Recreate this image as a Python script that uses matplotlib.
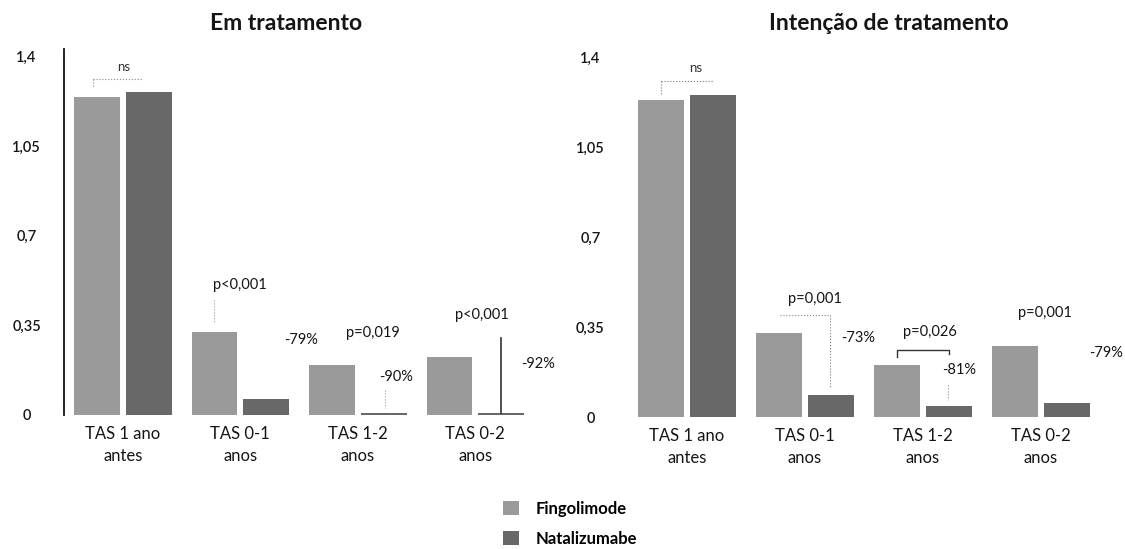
import numpy as np
import matplotlib
matplotlib.use("Agg")
import matplotlib.pyplot as plt
from matplotlib.patches import Patch

plt.rcParams['font.family'] = ['Lato', 'DejaVu Sans']

categories = ["TAS 1 ano\nantes", "TAS 0-1\nanos", "TAS 1-2\nanos", "TAS 0-2\nanos"]
series = ["Fingolimode", "Natalizumabe"]
ticks = [0, 0.35, 0.7, 1.05, 1.4]
tick_labels = ["0", "0,35", "0,7", "1,05", "1,4"]

# Em tratamento
on_fingo = [1.244, 0.325, 0.196, 0.227]
on_nata = [1.263, 0.063, 0.009, 0.009]
on_pvals = ["ns", "p<0,001", "p=0,019", "p<0,001"]
on_reduc = ["", "-79%", "-90%", "-92%"]

# Intenção de tratamento
itt_fingo = [1.236, 0.328, 0.203, 0.277]
itt_nata = [1.256, 0.086, 0.043, 0.055]
itt_pvals = ["ns", "p=0,001", "p=0,026", "p=0,001"]
itt_reduc = ["", "-73%", "-81%", "-79%"]

fingo_color = '#9a9a9a'
nata_color = '#686868'
txt = '#151515'

fig = plt.figure(figsize=(11.25, 5.49), dpi=100)
ax1 = fig.add_axes([0.0569, 0.2441, 0.4178, 0.6666])
ax2 = fig.add_axes([0.5582, 0.2404, 0.4196, 0.6686])

x = np.arange(len(categories))
w = 0.39
off = 0.22


def draw(ax, fingo, nata, show_spine):
    ax.bar(x - off, fingo, w, color=fingo_color)
    ax.bar(x + off, nata, w, color=nata_color)
    ax.set_xlim(-0.5, 3.5)
    ax.set_ylim(0, 1.43)
    ax.set_yticks(ticks)
    ax.set_yticklabels(tick_labels, fontsize=10.5, color=txt, fontweight='semibold')
    for lab in ax.get_yticklabels():
        lab.set_horizontalalignment('center')
    ax.tick_params(axis='y', length=0, pad=27)
    ax.set_xticks(x)
    ax.set_xticklabels(categories, fontsize=12, color=txt, linespacing=1.45)
    ax.tick_params(axis='x', length=0, pad=8)
    for s in ['top', 'right', 'bottom']:
        ax.spines[s].set_visible(False)
    ax.spines['left'].set_visible(show_spine)
    ax.spines['left'].set_color('#111111')
    ax.spines['left'].set_linewidth(1.3)


draw(ax1, on_fingo, on_nata, True)
draw(ax2, itt_fingo, itt_nata, False)

fig.text(0.254, 0.958, "Em tratamento", ha='center', va='center',
         fontsize=16.5, fontweight='bold', color=txt)
fig.text(0.790, 0.958, "Intenção de tratamento", ha='center', va='center',
         fontsize=16.5, fontweight='bold', color=txt)

# annotations, left panel
fs = 10.5
ax1.text(0.01, 1.36, on_pvals[0], ha='center', va='center', fontsize=9.5, color='#333333')
ax1.plot([-0.255, 0.17], [1.314, 1.314], ls=':', lw=0.8, color='#888888', clip_on=False)
ax1.plot([-0.255, -0.255], [1.314, 1.28], ls=':', lw=0.8, color='#888888')
ax1.text(0.996, 0.508, on_pvals[1], ha='center', va='center', fontsize=fs, color=txt)
ax1.text(1.515, 0.293, on_reduc[1], ha='center', va='center', fontsize=fs, color=txt)
ax1.plot([0.774, 0.774], [0.45, 0.36], ls=':', lw=0.8, color='#999999')
ax1.text(2.128, 0.32, on_pvals[2], ha='center', va='center', fontsize=fs, color=txt)
ax1.text(2.33, 0.149, on_reduc[2], ha='center', va='center', fontsize=fs, color=txt)
ax1.plot([2.23, 2.23], [0.098, 0.027], ls=':', lw=0.8, color='#999999')
ax1.text(3.055, 0.391, on_pvals[3], ha='center', va='center', fontsize=fs, color=txt)
ax1.text(3.53, 0.2, on_reduc[3], ha='center', va='center', fontsize=fs, color=txt, clip_on=False)
ax1.plot([3.217, 3.217], [0.301, 0.008], lw=1.2, color='#333333')

# annotations, right panel
ax2.text(0.076, 1.361, itt_pvals[0], ha='center', va='center', fontsize=9.5, color='#333333')
ax2.plot([-0.22, 0.22], [1.31, 1.31], ls=':', lw=0.8, color='#777777')
ax2.plot([-0.22, -0.22], [1.31, 1.256], ls=':', lw=0.8, color='#777777')
ax2.text(1.085, 0.46, itt_pvals[1], ha='center', va='center', fontsize=fs, color=txt)
ax2.plot([0.79, 1.21], [0.398, 0.398], ls=':', lw=0.8, color='#888888')
ax2.plot([1.21, 1.21], [0.398, 0.117], ls=':', lw=0.8, color='#777777')
ax2.text(1.45, 0.308, itt_reduc[1], ha='center', va='center', fontsize=fs, color=txt)
ax2.text(2.06, 0.33, itt_pvals[2], ha='center', va='center', fontsize=fs, color=txt)
ax2.plot([1.78, 1.78, 2.22, 2.22], [0.234, 0.261, 0.261, 0.245], lw=1.0, color='#333333')
ax2.text(2.31, 0.183, itt_reduc[2], ha='center', va='center', fontsize=fs, color=txt)
ax2.plot([2.21, 2.21], [0.125, 0.066], ls=':', lw=0.8, color='#888888')
ax2.text(3.03, 0.405, itt_pvals[3], ha='center', va='center', fontsize=fs, color=txt)
ax2.text(3.55, 0.25, itt_reduc[3], ha='center', va='center', fontsize=fs, color=txt, clip_on=False)

handles = [Patch(facecolor=fingo_color), Patch(facecolor=nata_color)]
fig.legend(handles, series, loc='upper left', bbox_to_anchor=(0.447, 0.088),
           frameon=False, borderpad=0, borderaxespad=0, handlelength=0.95,
           handleheight=0.95, handletextpad=1.0, labelspacing=0.85,
           prop={'weight': 'bold', 'size': 12})

fig.savefig('out.png', dpi=100)
